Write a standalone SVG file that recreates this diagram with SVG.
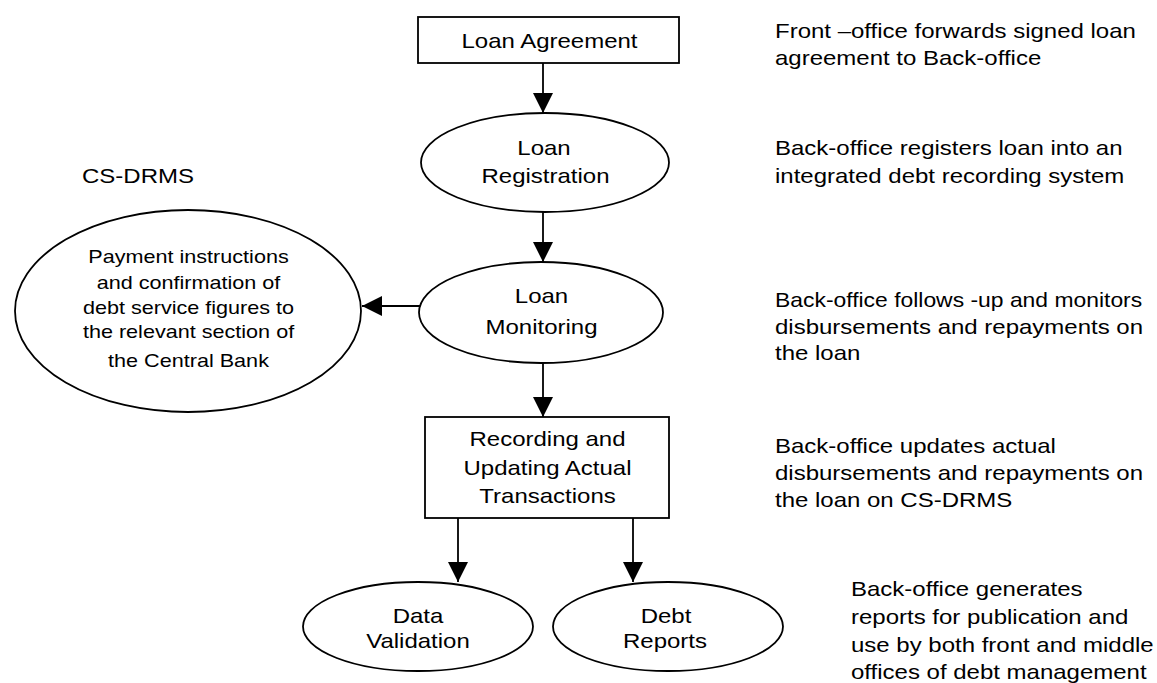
<svg xmlns="http://www.w3.org/2000/svg" width="1157" height="683" viewBox="0 0 1157 683">
<style>
.shape{fill:#fff;stroke:#000;stroke-width:1.8}
.conn{stroke:#000;stroke-width:1.8;fill:none}
text{font-family:"Liberation Sans",Arial,sans-serif;font-size:20px;fill:#000}
.c{text-anchor:middle}
.s{font-size:18px}
</style>
<defs>
<marker id="ah" markerUnits="userSpaceOnUse" markerWidth="20" markerHeight="20" refX="20" refY="10" orient="auto" viewBox="0 0 20 20">
<path d="M0,0 L20,10 L0,20 z" fill="#000"/>
</marker>
</defs>
<g id="connectors">
<line class="conn" x1="543" y1="63" x2="543" y2="113" marker-end="url(#ah)"/>
<line class="conn" x1="543" y1="212" x2="543" y2="262" marker-end="url(#ah)"/>
<line class="conn" x1="543" y1="363" x2="543" y2="417" marker-end="url(#ah)"/>
<line class="conn" x1="420" y1="306" x2="362" y2="306" marker-end="url(#ah)"/>
<line class="conn" x1="458" y1="518" x2="458" y2="582" marker-end="url(#ah)"/>
<line class="conn" x1="633" y1="518" x2="633" y2="582" marker-end="url(#ah)"/>
</g>
<g id="loan-agreement">
<rect class="shape" x="418" y="17" width="261" height="46"/>
<text class="c" transform="translate(549.5,48) scale(1.2,1)">Loan Agreement</text>
</g>
<g id="loan-registration">
<ellipse class="shape" cx="545" cy="162.5" rx="124" ry="49.5"/>
<text class="c" transform="translate(544,155) scale(1.2,1)">Loan</text>
<text class="c" transform="translate(545.5,183) scale(1.2,1)">Registration</text>
</g>
<g id="loan-monitoring">
<ellipse class="shape" cx="541" cy="312.5" rx="122" ry="50.5"/>
<text class="c" transform="translate(541.5,303) scale(1.2,1)">Loan</text>
<text class="c" transform="translate(541.5,334) scale(1.2,1)">Monitoring</text>
</g>
<g id="recording">
<rect class="shape" x="425" y="417" width="244" height="101"/>
<text class="c" transform="translate(547.5,446) scale(1.2,1)">Recording and</text>
<text class="c" transform="translate(547.5,475) scale(1.2,1)">Updating Actual</text>
<text class="c" transform="translate(547.5,503) scale(1.2,1)">Transactions</text>
</g>
<g id="data-validation">
<ellipse class="shape" cx="418" cy="626.5" rx="115" ry="44.5"/>
<text class="c" transform="translate(418,623) scale(1.2,1)">Data</text>
<text class="c" transform="translate(418,648) scale(1.2,1)">Validation</text>
</g>
<g id="debt-reports">
<ellipse class="shape" cx="668" cy="626.5" rx="115" ry="44.5"/>
<text class="c" transform="translate(666,623) scale(1.2,1)">Debt</text>
<text class="c" transform="translate(665,648) scale(1.2,1)">Reports</text>
</g>
<g id="payment">
<ellipse class="shape" cx="188" cy="311" rx="173" ry="101"/>
<text class="c s" transform="translate(188.5,263) scale(1.2,1)">Payment instructions</text>
<text class="c s" transform="translate(188.5,289) scale(1.2,1)">and confirmation of</text>
<text class="c s" transform="translate(188.5,314) scale(1.2,1)">debt service figures to</text>
<text class="c s" transform="translate(188.5,338) scale(1.2,1)">the relevant section of</text>
<text class="c s" transform="translate(188.5,367) scale(1.2,1)">the Central Bank</text>
</g>
<g id="cs-drms-label">
<text transform="translate(82,183) scale(1.2,1)">CS-DRMS</text>
</g>
<g id="notes">
<text transform="translate(775,38) scale(1.2,1)">Front –office forwards signed loan</text>
<text transform="translate(775,65) scale(1.2,1)">agreement to Back-office</text>
<text transform="translate(775,155) scale(1.2,1)">Back-office registers loan into an</text>
<text transform="translate(775,183) scale(1.2,1)">integrated debt recording system</text>
<text transform="translate(775,307) scale(1.145,1)">Back-office follows -up and monitors</text>
<text transform="translate(775,334) scale(1.2,1)">disbursements and repayments on</text>
<text transform="translate(775,360) scale(1.2,1)">the loan</text>
<text transform="translate(775,453) scale(1.2,1)">Back-office updates actual</text>
<text transform="translate(775,480) scale(1.2,1)">disbursements and repayments on</text>
<text transform="translate(775,507) scale(1.2,1)">the loan on CS-DRMS</text>
<text transform="translate(851,596) scale(1.2,1)">Back-office generates</text>
<text transform="translate(851,624) scale(1.2,1)">reports for publication and</text>
<text transform="translate(851,652) scale(1.2,1)">use by both front and middle</text>
<text transform="translate(851,679) scale(1.2,1)">offices of debt management</text>
</g>
</svg>
